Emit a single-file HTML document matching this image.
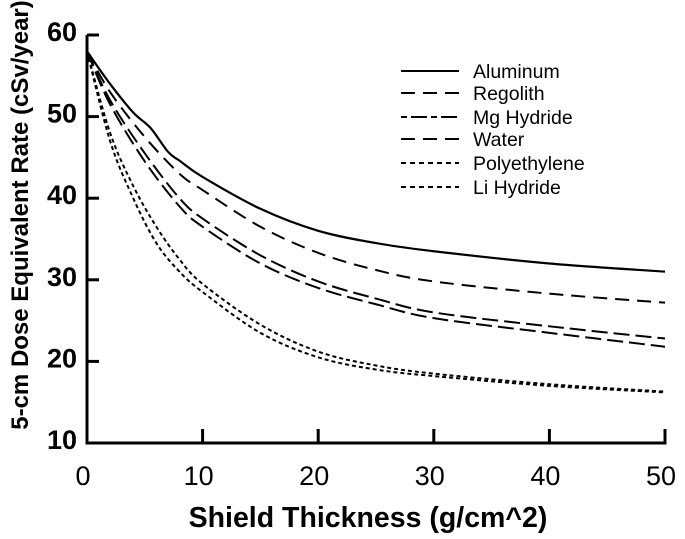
<!DOCTYPE html>
<html><head><meta charset="utf-8"><style>
html,body{margin:0;padding:0;background:#fff;}
svg{display:block;font-family:"Liberation Sans",Arial,sans-serif;}
</style></head><body>
<svg id="chart" width="685" height="539" viewBox="0 0 685 539" xmlns="http://www.w3.org/2000/svg"></svg>
<script>
const xTicks = [0, 10, 20, 30, 40, 50];
const yTicks = [10, 20, 30, 40, 50, 60];
const seriesNames = ["Aluminum", "Regolith", "Mg Hydride", "Water", "Polyethylene", "Li Hydride"];
const xAluminum = [0, 2, 4, 5.5, 7, 8, 10, 15, 20, 25, 30, 40, 50];
const yAluminum = [58, 54, 50.5, 48.6, 45.7, 44.6, 42.6, 38.7, 36, 34.5, 33.5, 32, 31];
const xCommon = [0, 2, 5, 8, 10, 15, 20, 25, 30, 40, 50];
const yRegolith = [58, 53, 47.5, 43, 41, 36.5, 33.3, 31.2, 29.8, 28.3, 27.2];
const yMgHydride = [58, 52, 45.5, 40, 37.5, 33, 29.8, 27.7, 26, 24.3, 22.8];
const yWater = [58, 51.5, 44.5, 39, 36.5, 32, 29, 27, 25.3, 23.5, 21.8];
const xPoly = [0, 2, 4, 6, 8, 10, 15, 20, 25, 30, 40, 50];
const yPolyethylene = [58, 48, 41.5, 36.5, 32.5, 29.5, 24.5, 21.2, 19.5, 18.5, 17.2, 16.3];
const yLiHydride = [58, 47, 40, 34.5, 31, 28.5, 23.5, 20.5, 19, 18.2, 17, 16.2];

const NS = "http://www.w3.org/2000/svg";
const svg = document.getElementById("chart");
const X0 = 87, X1 = 665, Y10 = 443, Y60 = 35;
const sx = v => X0 + (v - 0) / 50 * (X1 - X0);
const sy = v => Y10 - (v - 10) / 50 * (Y10 - Y60);
function mk(tag, attrs, parent) {
  const e = document.createElementNS(NS, tag);
  for (const k in attrs) e.setAttribute(k, attrs[k]);
  (parent || svg).appendChild(e);
  return e;
}
const yAxis = mk("line", {x1: X0, y1: Y60, x2: X0, y2: Y10 + 1.5, stroke: "#000", "stroke-width": 3});


const xAxis = mk("line", {x1: X0 - 1.5, y1: Y10, x2: X1 + 1.5, y2: Y10, stroke: "#000", "stroke-width": 3});


yTicks.forEach(t => {
  if (t !== 10) {
    const l = mk("line", {x1: X0, y1: sy(t), x2: X0 + 12, y2: sy(t), stroke: "#000", "stroke-width": 3});
    
    
  }
  const tx = mk("text", {x: 77, y: sy(t) + 6, "text-anchor": "end", "font-size": 27, "font-weight": "bold"});
  tx.textContent = t;
  
  
});
xTicks.forEach(t => {
  if (t !== 0) {
    const l = mk("line", {x1: sx(t), y1: Y10, x2: sx(t), y2: Y10 - 14, stroke: "#000", "stroke-width": 3});
    
    
  }
  const tx = mk("text", {x: sx(t) - 4, y: 485, "text-anchor": "middle", "font-size": 27});
  tx.textContent = t;
  
  
});
const xt = mk("text", {x: 368, y: 527, "text-anchor": "middle", "font-size": 28.5, "font-weight": "bold"});
xt.textContent = "Shield Thickness (g/cm^2)";


const yt = mk("text", {x: 0, y: 0, "text-anchor": "middle", "font-size": 24, "font-weight": "bold", transform: "translate(28,215) rotate(-90)"});
yt.textContent = "5-cm Dose Equivalent Rate (cSv/year)";



function pathD(xs, ys) {
  const p = xs.map((x, i) => [sx(x), sy(ys[i])]);
  let d = "M" + p[0][0] + "," + p[0][1];
  for (let i = 0; i < p.length - 1; i++) {
    const p0 = p[i - 1] || p[i], p1 = p[i], p2 = p[i + 1], p3 = p[i + 2] || p2;
    const c1 = [p1[0] + (p2[0] - p0[0]) / 6, p1[1] + (p2[1] - p0[1]) / 6];
    const c2 = [p2[0] - (p3[0] - p1[0]) / 6, p2[1] - (p3[1] - p1[1]) / 6];
    d += " C" + c1.join(",") + " " + c2.join(",") + " " + p2.join(",");
  }
  return d;
}
const series = [
  [xAluminum, yAluminum, "none", 2.2, "line-aluminum"],
  [xCommon, yRegolith, "14 8", 2, "line-regolith"],
  [xCommon, yMgHydride, "16 6", 2, "line-mg-hydride"],
  [xCommon, yWater, "16 6", 2, "line-water"],
  [xPoly, yPolyethylene, "4 3", 2, "line-polyethylene"],
  [xPoly, yLiHydride, "4 3", 2, "line-li-hydride"]
];
const legDash = ["none", "14 8", "6 4 16 4", "14 8", "5 4", "5 4"];
const legY = [71, 93, 117, 139, 163, 187];
series.forEach((s, i) => {
  const p = mk("path", {d: pathD(s[0], s[1]), fill: "none", stroke: "#000", "stroke-width": s[3], "stroke-dasharray": s[2]});
  
  
  const ly = legY[i];
  const g = mk("g", {});
  
  
  mk("line", {x1: 401, y1: ly, x2: 459, y2: ly, stroke: "#000", "stroke-width": 2, "stroke-dasharray": legDash[i]}, g);
  const t = mk("text", {x: 473, y: ly + 7, "font-size": 19.5}, g);
  t.textContent = seriesNames[i];
});
</script>
</body></html>
